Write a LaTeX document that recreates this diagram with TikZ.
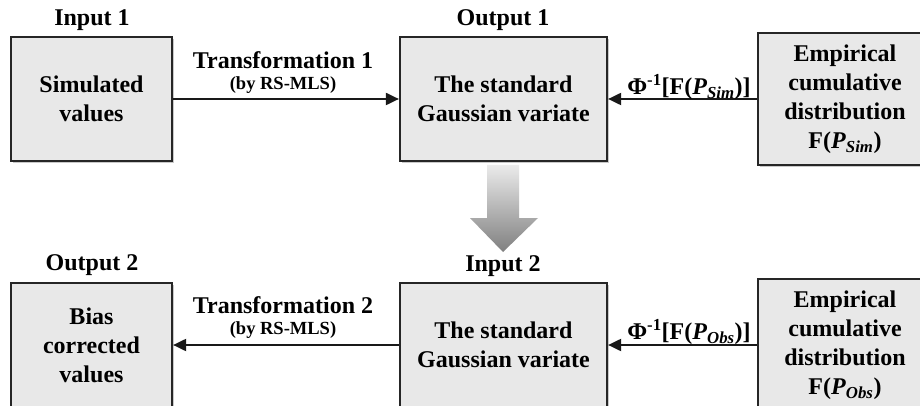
\documentclass[tikz,border=0pt]{standalone}
\usepackage{fontspec}
\setmainfont{Liberation Serif}
\usetikzlibrary{arrows.meta,shadows}
\tikzset{
  box/.style={draw=black!85, line width=2.2pt, fill=black!9, align=center,
    font=\fontsize{24}{29}\selectfont\bfseries, inner sep=0pt,
    drop shadow={shadow xshift=2pt, shadow yshift=-2pt, opacity=0.35, fill=black!60}},
  lbl/.style={font=\fontsize{24}{28}\selectfont\bfseries, inner sep=0pt},
  small/.style={font=\fontsize{18.5}{22}\selectfont\bfseries, inner sep=0pt},
  conn/.style={line width=2pt, draw=black!90, -{Triangle[length=13pt,width=12pt]}},
}
\newcommand{\Pv}[1]{\textit{P}\textsubscript{\textit{#1}}}
\begin{document}
\begin{tikzpicture}[x=1pt,y=-1pt]
\useasboundingbox (0,0) rectangle (920,406);
\clip (0,0) rectangle (920,406);
\fill[white] (0,0) rectangle (920,406);
% top row
\node[box, minimum width=161pt, minimum height=124pt] (sim) at (91.5,99) {Simulated\\values};
\node[box, minimum width=207pt, minimum height=124pt] (gau1) at (503.5,99) {The standard\\Gaussian variate};
\node[box, minimum width=174pt, minimum height=132pt] (emp1) at (845,99) {Empirical\\cumulative\\distribution\\F(\Pv{Sim})};
\node[lbl] (in1) at (92,20) {Input 1};
\node[lbl] (out1) at (503,20) {Output 1};
\draw[conn] (sim.east) -- (gau1.west);
\draw[conn] (emp1.west) -- (gau1.east);
\node[lbl] (t1) at (283,60) {Transformation 1};
\node[small] (b1) at (283,85) {(by RS-MLS)};
\node[lbl] (phi1) at (689,87) {Φ\textsuperscript{-1}[F(\Pv{Sim})]};
% big arrow
\shade[top color=black!8, bottom color=black!50]
  (487,165) -- (519,165) -- (519,218) -- (538,218) -- (503,252) -- (470,218) -- (487,218) -- cycle;
% bottom row
\node[box, minimum width=161pt, minimum height=124pt] (bias) at (91.5,345) {Bias\\corrected\\values};
\node[box, minimum width=207pt, minimum height=124pt] (gau2) at (503.5,345) {The standard\\Gaussian variate};
\node[box, minimum width=174pt, minimum height=132pt] (emp2) at (845,345) {Empirical\\cumulative\\distribution\\F(\Pv{Obs})};
\node[lbl] (out2) at (92,265) {Output 2};
\node[lbl] (in2) at (503,266) {Input 2};
\draw[conn] (gau2.west) -- (bias.east);
\draw[conn] (emp2.west) -- (gau2.east);
\node[lbl] (t2) at (283,305) {Transformation 2};
\node[small] (b2) at (283,330) {(by RS-MLS)};
\node[lbl] (phi2) at (689,332) {Φ\textsuperscript{-1}[F(\Pv{Obs})]};
\end{tikzpicture}
\end{document}
